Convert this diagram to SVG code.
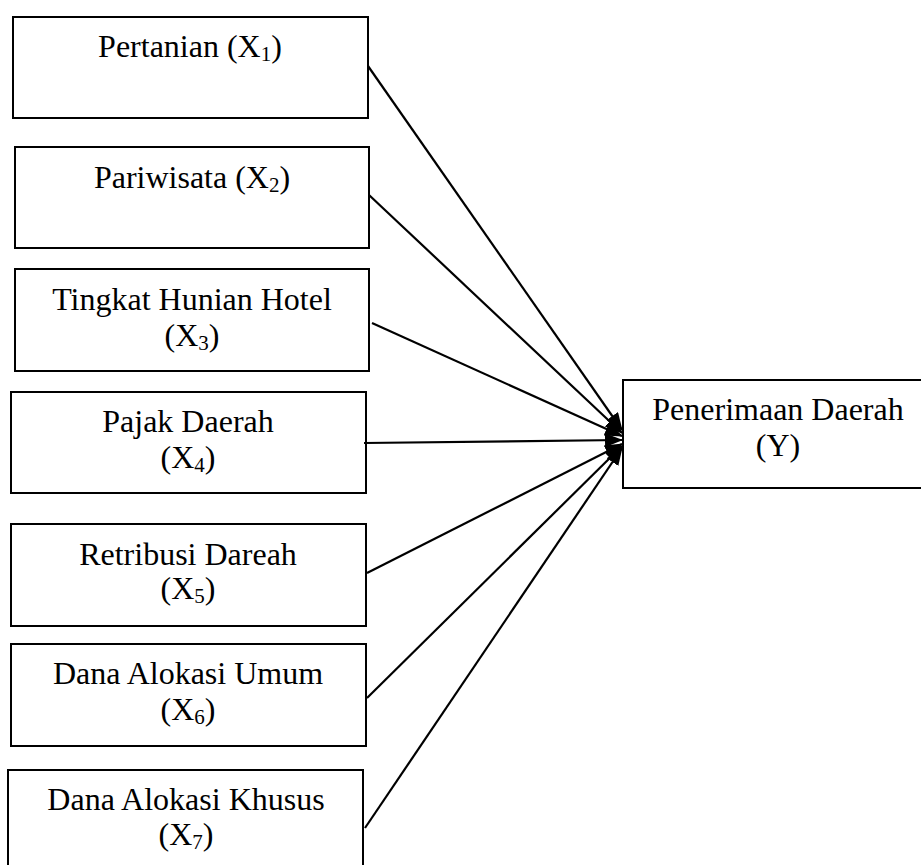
<svg xmlns="http://www.w3.org/2000/svg" width="921" height="865" viewBox="0 0 921 865">
<style>
.box{fill:#fff;stroke:#000;stroke-width:2}
.t{font-family:"Liberation Serif","Times New Roman",serif;font-size:32px;fill:#000;text-anchor:middle}
.s{font-size:21px}
.c{stroke:#000;stroke-width:2.2;fill:none}
</style>
<defs>
<marker id="ah" markerUnits="userSpaceOnUse" markerWidth="18" markerHeight="14" refX="17" refY="7" orient="auto">
<path d="M0,0 L18,7 L0,14 Z" fill="#000"/>
</marker>
</defs>
<rect width="921" height="865" fill="#fff"/>
<g id="x1">
<rect class="box" x="13" y="17" width="355" height="101"/>
<text class="t" x="190" y="57">Pertanian (X<tspan class="s" dy="4">1</tspan><tspan dy="-4">)</tspan></text>
</g>
<g id="x2">
<rect class="box" x="15" y="147" width="354" height="101"/>
<text class="t" x="192" y="188">Pariwisata (X<tspan class="s" dy="4">2</tspan><tspan dy="-4">)</tspan></text>
</g>
<g id="x3">
<rect class="box" x="15" y="269" width="354" height="102"/>
<text class="t" x="192" y="310">Tingkat Hunian Hotel</text>
<text class="t" x="192" y="346">(X<tspan class="s" dy="4">3</tspan><tspan dy="-4">)</tspan></text>
</g>
<g id="x4">
<rect class="box" x="11" y="392" width="355" height="101"/>
<text class="t" x="188" y="432">Pajak Daerah</text>
<text class="t" x="188" y="468">(X<tspan class="s" dy="4">4</tspan><tspan dy="-4">)</tspan></text>
</g>
<g id="x5">
<rect class="box" x="11" y="524" width="355" height="102"/>
<text class="t" x="188" y="565">Retribusi Dareah</text>
<text class="t" x="188" y="599">(X<tspan class="s" dy="4">5</tspan><tspan dy="-4">)</tspan></text>
</g>
<g id="x6">
<rect class="box" x="11" y="644" width="355" height="102"/>
<text class="t" x="188" y="684">Dana Alokasi Umum</text>
<text class="t" x="188" y="720">(X<tspan class="s" dy="4">6</tspan><tspan dy="-4">)</tspan></text>
</g>
<g id="x7">
<rect class="box" x="8" y="770" width="355" height="105"/>
<text class="t" x="186" y="810">Dana Alokasi Khusus</text>
<text class="t" x="186" y="845">(X<tspan class="s" dy="4">7</tspan><tspan dy="-4">)</tspan></text>
</g>
<g id="y">
<rect class="box" x="623" y="380" width="320" height="108"/>
<text class="t" x="778" y="420">Penerimaan Daerah</text>
<text class="t" x="778" y="456">(Y)</text>
</g>
<g id="connectors">
<line class="c" x1="368" y1="66" x2="622" y2="430" marker-end="url(#ah)"/>
<line class="c" x1="369" y1="195" x2="622" y2="433" marker-end="url(#ah)"/>
<line class="c" x1="372" y1="323" x2="622" y2="436" marker-end="url(#ah)"/>
<line class="c" x1="364" y1="443" x2="622" y2="440" marker-end="url(#ah)"/>
<line class="c" x1="367" y1="573" x2="622" y2="444" marker-end="url(#ah)"/>
<line class="c" x1="367" y1="698" x2="622" y2="446" marker-end="url(#ah)"/>
<line class="c" x1="365" y1="828" x2="622" y2="448" marker-end="url(#ah)"/>
</g>
</svg>
